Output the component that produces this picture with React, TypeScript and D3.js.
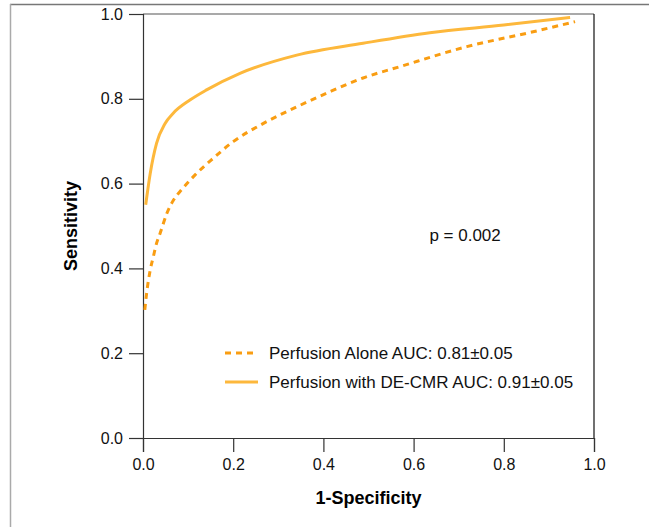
import React, { useEffect, useRef } from "react";
import * as d3 from "d3";

// ROC points
const aloneFpr = [0.004, 0.008, 0.016, 0.023, 0.03, 0.038, 0.053, 0.067, 0.086, 0.1, 0.115, 0.156, 0.2, 0.267, 0.341, 0.415, 0.488, 0.57, 0.718, 0.865, 0.958];
const aloneTpr = [0.302, 0.341, 0.396, 0.428, 0.459, 0.483, 0.53, 0.56, 0.586, 0.603, 0.62, 0.66, 0.699, 0.742, 0.781, 0.817, 0.849, 0.876, 0.923, 0.958, 0.982];
const deFpr = [0.006, 0.016, 0.03, 0.049, 0.067, 0.104, 0.141, 0.215, 0.341, 0.488, 0.636, 0.8, 0.947];
const deTpr = [0.55, 0.624, 0.695, 0.742, 0.766, 0.797, 0.821, 0.86, 0.903, 0.931, 0.956, 0.974, 0.992];
const ticks = [0, 0.2, 0.4, 0.6, 0.8, 1.0];
const legendLabels = ["Perfusion Alone AUC: 0.81\u00b10.05", "Perfusion with DE-CMR AUC: 0.91\u00b10.05"];

const W = 649;
const H = 527;
const font = "'Liberation Sans', Arial, Helvetica, sans-serif";

const App = () => {
  const ref = useRef<SVGSVGElement>(null);

  useEffect(() => {
    const svg = d3.select(ref.current);
    svg.selectAll("*").remove();

    const margin = { top: 14, right: 55, bottom: 89, left: 143 };
    const x = d3.scaleLinear().domain([0, 1]).range([margin.left, W - margin.right]);
    const y = d3.scaleLinear().domain([0, 1]).range([H - margin.bottom, margin.top]);

    // outer frame
    svg.append("line").attr("x1", 10).attr("x2", W).attr("y1", 4.5).attr("y2", 4.5).attr("stroke", "#777").attr("stroke-width", 1.5);
    svg.append("line").attr("x1", 10.5).attr("x2", 10.5).attr("y1", 4).attr("y2", H).attr("stroke", "#aaa").attr("stroke-width", 1.5);

    // plot box top/right
    svg.append("line").attr("x1", x(0)).attr("x2", x(1)).attr("y1", y(1)).attr("y2", y(1)).attr("stroke", "#555").attr("stroke-width", 1.2);
    svg.append("line").attr("x1", x(1)).attr("x2", x(1)).attr("y1", y(1)).attr("y2", y(0)).attr("stroke", "#111").attr("stroke-width", 1.2);

    const xAxis = svg
      .append("g")
      .attr("transform", `translate(0,${y(0)})`)
      .call(d3.axisBottom(x).tickValues(ticks).tickFormat(d3.format(".1f")).tickSize(14).tickPadding(7));
    const yAxis = svg
      .append("g")
      .attr("transform", `translate(${x(0)},0)`)
      .call(d3.axisLeft(y).tickValues(ticks).tickFormat(d3.format(".1f")).tickSize(14).tickPadding(6));
    [xAxis, yAxis].forEach((g) => {
      g.select(".domain").attr("stroke", "#333").attr("stroke-width", 1.2);
      g.selectAll(".tick line").attr("stroke", "#333").attr("stroke-width", 1.2);
      g.selectAll(".tick text")
        .style("font-size", "16px")
        .style("font-family", font)
        .attr("fill", "#111");
    });

    svg
      .append("text")
      .attr("x", (x(0) + x(1)) / 2)
      .attr("y", 504)
      .attr("text-anchor", "middle")
      .attr("font-family", font)
      .attr("font-weight", "bold")
      .attr("font-size", 18)
      .text("1-Specificity");
    svg
      .append("text")
      .attr("transform", `translate(77,${(y(0) + y(1)) / 2}) rotate(-90)`)
      .attr("text-anchor", "middle")
      .attr("font-family", font)
      .attr("font-weight", "bold")
      .attr("font-size", 18)
      .text("Sensitivity");

    const line = d3
      .line<[number, number]>()
      .x((d) => x(d[0]))
      .y((d) => y(d[1]))
      .curve(d3.curveMonotoneX);

    const alone = aloneFpr.map((v, i) => [v, aloneTpr[i]] as [number, number]);
    const de = deFpr.map((v, i) => [v, deTpr[i]] as [number, number]);

    svg.append("path").attr("d", line(de)).attr("fill", "none").attr("stroke", "#FDB83C").attr("stroke-width", 3);
    svg
      .append("path")
      .attr("d", line(alone))
      .attr("fill", "none")
      .attr("stroke", "#F99D12")
      .attr("stroke-width", 3)
      .attr("stroke-dasharray", "6,5");

    svg
      .append("text")
      .attr("x", x(0.635))
      .attr("y", 241)
      .attr("font-family", font)
      .attr("font-size", 17)
      .attr("fill", "#111")
      .text("p = 0.002");

    // legend
    const legend = svg.append("g");
    legendLabels.forEach((label, i) => {
      const ly = 353 + i * 29;
      legend
        .append("line")
        .attr("x1", 225)
        .attr("x2", 258)
        .attr("y1", ly)
        .attr("y2", ly)
        .attr("stroke", i === 0 ? "#F99D12" : "#FDB83C")
        .attr("stroke-width", 3)
        .attr("stroke-dasharray", i === 0 ? "6,5" : null);
      legend
        .append("text")
        .attr("x", 269)
        .attr("y", ly + 6)
        .attr("font-family", font)
        .attr("font-size", 17)
        .attr("fill", "#111")
        .text(label);
    });
  }, []);

  return (
    <svg
      ref={ref}
      width={W}
      height={H}
      style={{ position: "absolute", left: 0, top: 0, background: "#fff" }}
    ></svg>
  );
};

export default App;
